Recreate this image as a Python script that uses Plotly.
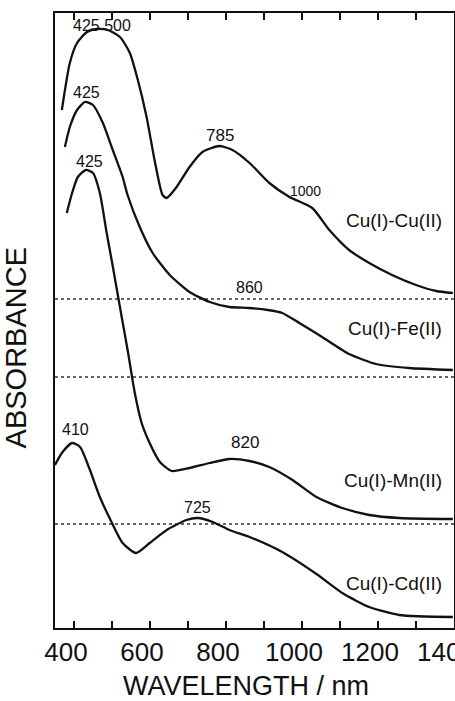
import plotly.graph_objects as go

# ---- data (absorbance, arbitrary units, relative to each trace's baseline) ----
wl_cucu = [368, 389, 408, 434, 460, 489, 521, 547, 568, 591, 612, 633, 644, 670, 704, 738, 783, 817,
           862, 888, 914, 967, 1027, 1072, 1124, 1177, 1237, 1300, 1353, 1397]
abs_cucu = [1.89, 2.36, 2.56, 2.67, 2.70, 2.69, 2.62, 2.46, 2.19, 1.82, 1.39, 1.04, 1.01, 1.12, 1.32, 1.47, 1.53, 1.49,
            1.36, 1.26, 1.16, 1.02, 0.91, 0.69, 0.49, 0.36, 0.24, 0.14, 0.08, 0.06]

wl_fe = [376, 389, 408, 429, 450, 476, 502, 528, 541, 573, 607, 652, 704, 757, 809, 860, 910, 948,
         993, 1053, 1124, 1195, 1282, 1397]
abs_fe = [2.30, 2.50, 2.67, 2.75, 2.72, 2.54, 2.27, 2.00, 1.82, 1.50, 1.24, 1.02, 0.85, 0.75, 0.70, 0.69, 0.67, 0.64,
          0.54, 0.40, 0.23, 0.13, 0.09, 0.07]

wl_mn = [381, 395, 410, 431, 450, 468, 486, 500, 513, 526, 542, 560, 578, 599, 626, 657, 704, 757, 809,
         862, 914, 975, 1038, 1106, 1177, 1256, 1397]
abs_mn = [3.11, 3.31, 3.47, 3.54, 3.51, 3.31, 2.91, 2.62, 2.34, 2.06, 1.72, 1.31, 1.01, 0.81, 0.62, 0.53, 0.56, 0.61, 0.65,
          0.63, 0.57, 0.44, 0.27, 0.16, 0.09, 0.06, 0.05]

wl_cd = [350, 368, 395, 416, 442, 468, 500, 528, 563, 599, 644, 696, 725, 765, 809, 862, 948, 1038, 1106,
         1177, 1256, 1397]
abs_cd = [1.63, 1.75, 1.85, 1.81, 1.58, 1.31, 1.05, 0.85, 0.75, 0.85, 0.98, 1.08, 1.10, 1.06, 0.98, 0.91, 0.76, 0.54, 0.35,
          0.21, 0.13, 0.11]

series_names = ["Cu(I)-Cu(II)", "Cu(I)-Fe(II)", "Cu(I)-Mn(II)", "Cu(I)-Cd(II)"]
baselines = [3.29, 2.51, 1.04, 0.0]   # vertical offsets of the stacked spectra
dotted_baselines = [3.29, 2.51, 1.04]

x_ticks = [400, 500, 600, 700, 800, 900, 1000, 1100, 1200, 1300, 1400]
x_ticktext = ["400", "", "600", "", "800", "", "1000", "", "1200", "", "1400"]

FONT = "Liberation Sans, Arial, sans-serif"

fig = go.Figure()

# dotted baselines
for b in dotted_baselines:
    fig.add_trace(go.Scatter(x=[350, 1400], y=[b, b], mode="lines",
                             line=dict(color="#333333", width=1.5, dash="dot"),
                             hoverinfo="skip", showlegend=False))

curves = [(wl_cucu, abs_cucu), (wl_fe, abs_fe), (wl_mn, abs_mn), (wl_cd, abs_cd)]
for (wl, a), off, name in zip(curves, baselines, series_names):
    fig.add_trace(go.Scatter(x=wl, y=[v + off for v in a], mode="lines", name=name,
                             line=dict(color="#111111", width=2.3, shape="spline", smoothing=0.6),
                             showlegend=False))

# peak labels
peak_labels = [
    ("425 500", 473, 6.03, 16),
    ("425", 432, 5.36, 16),
    ("425", 442, 4.67, 16),
    ("785", 784, 4.93, 17),
    ("1000", 1010, 4.37, 14),
    ("860", 863, 3.41, 16),
    ("820", 850, 1.86, 17),
    ("410", 403, 1.99, 16),
    ("725", 724, 1.21, 16),
]
for txt, x, y, sz in peak_labels:
    fig.add_annotation(x=x, y=y, text=txt, showarrow=False, xanchor="center", yanchor="middle",
                       font=dict(family=FONT, size=sz, color="#111111"))

# series labels
label_y = [4.08, 3.00, 1.48, 0.45]
for name, y in zip(series_names, label_y):
    fig.add_annotation(x=1374, y=y, text=name, showarrow=False, xanchor="right", yanchor="middle",
                       font=dict(family=FONT, size=19, color="#111111"))

# axis titles
fig.add_annotation(xref="paper", yref="paper", x=-0.098, y=0.456, text="ABSORBANCE", textangle=-90,
                   showarrow=False, xanchor="center", yanchor="middle",
                   font=dict(family=FONT, size=29, color="#111111"))
fig.add_annotation(xref="paper", yref="paper", x=0.479, y=-0.094, text="WAVELENGTH / nm",
                   showarrow=False, xanchor="center", yanchor="middle",
                   font=dict(family=FONT, size=27, color="#111111"))

fig.update_layout(
    template="none",
    width=455, height=701,
    margin=dict(l=55, r=1, t=13, b=73, autoexpand=False),
    paper_bgcolor="white", plot_bgcolor="white",
    showlegend=False,
    font=dict(family=FONT, color="#111111"),
)
fig.update_xaxes(range=[350, 1400], tickvals=x_ticks, ticktext=x_ticktext, automargin=False,
                 ticks="inside", ticklen=7, tickwidth=1.5, tickcolor="#111111",
                 showline=True, linecolor="#111111", linewidth=2, mirror="ticks",
                 showgrid=False, zeroline=False,
                 tickfont=dict(family=FONT, size=26, color="#111111"),
                 ticklabelshift=-8, ticklabeloverflow="allow")
fig.update_yaxes(range=[0, 6.15], showticklabels=False, ticks="", automargin=False,
                 showline=True, linecolor="#111111", linewidth=2, mirror=True,
                 showgrid=False, zeroline=False)

fig.write_html("out.html")
